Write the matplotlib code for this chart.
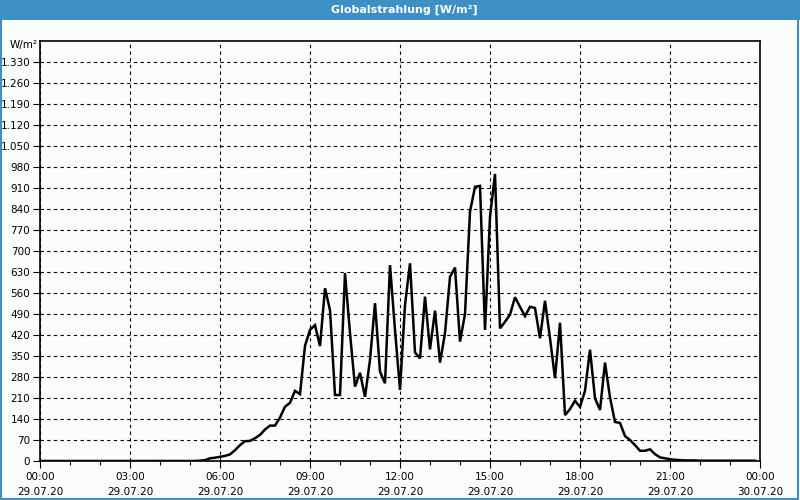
#!/usr/bin/env python

import matplotlib
matplotlib.use('Agg')
import matplotlib.pyplot as plt
from matplotlib.patches import Rectangle
from matplotlib.ticker import FuncFormatter

# 10-minute values, 00:00 .. 23:50 on 29.07.20
hours = [i / 6.0 for i in range(144)]
radiation = [
    0, 0, 0, 0, 0, 0, 0, 0, 0, 0, 0, 0,          # 00:00 - 01:50
    0, 0, 0, 0, 0, 0, 0, 0, 0, 0, 0, 0,          # 02:00 - 03:50
    0, 0, 0, 0, 0, 0, 0, 0, 1, 3, 9, 11,         # 04:00 - 05:50
    14, 17, 22, 36, 53, 66, 67, 76, 87, 105, 118, 118,   # 06:00 - 07:50
    145, 181, 194, 234, 223, 384, 437, 453, 383, 576, 503, 220,  # 08:00 - 09:50
    220, 626, 426, 248, 294, 214, 337, 526, 298, 259, 653, 437,  # 10:00 - 11:50
    237, 520, 659, 362, 342, 548, 372, 501, 328, 426, 614, 645,  # 12:00 - 13:50
    398, 490, 831, 914, 917, 437, 814, 957, 442, 464, 488, 546,  # 14:00 - 15:50
    514, 483, 514, 510, 409, 534, 409, 276, 461, 153, 173, 201,  # 16:00 - 17:50
    180, 234, 371, 209, 170, 328, 212, 130, 127, 83, 70, 53,     # 18:00 - 19:50
    34, 34, 39, 23, 12, 9, 6, 4, 3, 2, 2, 2,     # 20:00 - 21:50
    1, 1, 1, 1, 1, 1, 1, 1, 1, 1, 1, 1,          # 22:00 - 23:50
]

x_ticks = [0, 3, 6, 9, 12, 15, 18, 21, 24]
x_labels = ['00:00\n29.07.20', '03:00\n29.07.20', '06:00\n29.07.20',
            '09:00\n29.07.20', '12:00\n29.07.20', '15:00\n29.07.20',
            '18:00\n29.07.20', '21:00\n29.07.20', '00:00\n30.07.20']
y_ticks = list(range(0, 1331, 70))

title = 'Globalstrahlung [W/m²]'
unit = 'W/m²'

bg = '#fbfdfb'
blue = '#3d8fc6'

fig = plt.figure(figsize=(8, 5), dpi=100, facecolor=bg)

# title bar + frame
fig.patches.append(Rectangle((0, 0.96), 1, 0.04, transform=fig.transFigure,
                             facecolor=blue, edgecolor='none', zorder=0))
fig.patches.append(Rectangle((0.001, 0.002), 0.997, 0.996, transform=fig.transFigure,
                             facecolor='none', edgecolor=blue, lw=1.5, zorder=0))
fig.text(0.506, 0.98, title, color='white', fontsize=8, fontweight='bold',
         ha='center', va='center', family='DejaVu Sans')

ax = fig.add_axes([0.05, 0.078, 0.90, 0.84])
ax.set_facecolor(bg)
ax.plot(hours, radiation, color='black', lw=1.8, solid_joinstyle='miter', zorder=3)

ax.set_xlim(0, 24)
ax.set_ylim(0, 1400)
ax.set_xticks(x_ticks)
ax.set_xticklabels(x_labels, linespacing=1.55)
ax.set_xticks(range(25), minor=True)
ax.set_yticks(y_ticks)
ax.yaxis.set_major_formatter(FuncFormatter(lambda v, p: '{:,}'.format(int(v)).replace(',', '.')))

ax.grid(True, which='major', color='black', ls=(0, (3, 3)), lw=0.8)
ax.tick_params(axis='both', which='major', labelsize=7.5, length=5, width=0.8,
               color='black', pad=2)
ax.tick_params(axis='x', which='major', pad=3)
ax.tick_params(axis='x', which='minor', length=3, width=0.8)
for s in ax.spines.values():
    s.set_linewidth(1.2)

fig.text(0.012, 0.91, unit, fontsize=7.5, ha='left', va='center')

fig.savefig('out.png', dpi=100, facecolor=bg)
